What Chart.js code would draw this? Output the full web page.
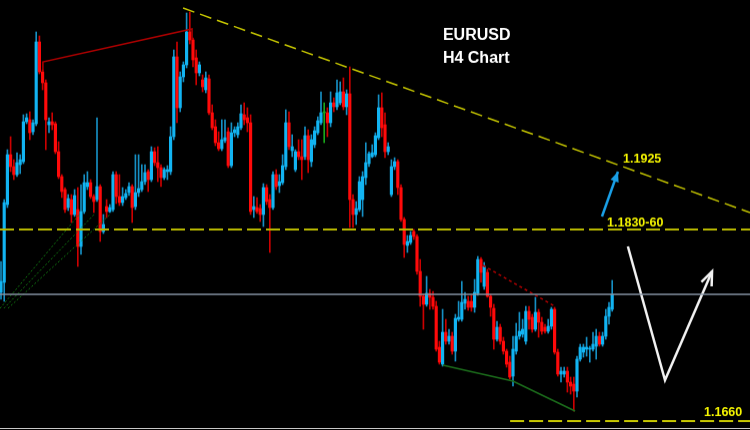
<!DOCTYPE html>
<html>
<head>
<meta charset="utf-8">
<script src="https://cdn.jsdelivr.net/npm/chart.js@4.4.0/dist/chart.umd.min.js"></script>
<style>
  html, body { margin: 0; padding: 0; background: #000; }
  #wrap { width: 750px; height: 430px; background: #000; }
  canvas { display: block; border-bottom: 1px solid #c8c8c8; }
</style>
</head>
<body>
<div id="wrap"><canvas id="myChart" width="750" height="429"></canvas></div>
<script>
// EURUSD H4 candles
var open = [
  1.1789,1.1799,1.1877,1.1927,1.1915,1.1907,1.1917,1.1920,1.1960,1.1962,
  1.1950,1.1958,1.2040,1.2010,1.1999,1.1957,1.1960,1.1958,1.1930,1.1905,
  1.1892,1.1874,1.1882,1.1867,1.1872,1.1835,1.1870,1.1895,1.1899,1.1885,
  1.1882,1.1895,1.1850,1.1875,1.1870,1.1872,1.1907,1.1885,1.1879,1.1884,
  1.1889,1.1895,1.1875,1.1889,1.1892,1.1900,1.1910,1.1902,1.1930,1.1919,
  1.1914,1.1904,1.1910,1.1910,1.1945,1.2025,1.1974,1.2005,1.2017,1.2050,
  1.2042,1.2024,1.2009,1.2002,1.1992,1.2003,1.1969,1.1955,1.1939,1.1933,
  1.1941,1.1950,1.1916,1.1949,1.1947,1.1954,1.1967,1.1964,1.1959,1.1872,
  1.1874,1.1873,1.1867,1.1894,1.1882,1.1874,1.1907,1.1896,1.1899,1.1915,
  1.1959,1.1931,1.1912,1.1930,1.1925,1.1925,1.1946,1.1920,1.1937,1.1949,
  1.1959,1.1969,1.1969,1.1959,1.1979,1.1975,1.1979,1.1990,1.1975,1.1988,
  1.1882,1.1867,1.1872,1.1882,1.1904,1.1918,1.1925,1.1927,1.1944,1.1974,
  1.1957,1.1930,1.1887,1.1915,1.1920,1.1894,1.1862,1.1836,1.1839,1.1850,
  1.1845,1.1810,1.1785,1.1777,1.1788,1.1784,1.1775,1.1734,1.1717,1.1749,
  1.1740,1.1745,1.1730,1.1762,1.1762,1.1778,1.1780,1.1780,1.1774,1.1788,
  1.1822,1.1795,1.1809,1.1785,1.1773,1.1742,1.1754,1.1740,1.1730,1.1719,
  1.1705,1.1730,1.1745,1.1747,1.1740,1.1770,1.1764,1.1752,1.1769,1.1759,
  1.1754,1.1750,1.1755,1.1772,1.1729,1.1707,1.1707,1.1710,1.1699,1.1697,
  1.1690,1.1722,1.1729,1.1732,1.1732,1.1732,1.1735,1.1745,1.1737,1.1745,
  1.1765,1.1772
];
var close = [
  1.1800,1.1879,1.1927,1.1915,1.1907,1.1919,1.1922,1.1960,1.1964,1.1949,
  1.1959,1.2040,1.2010,1.1999,1.1962,1.1960,1.1957,1.1930,1.1905,1.1890,
  1.1872,1.1883,1.1867,1.1886,1.1835,1.1870,1.1899,1.1899,1.1885,1.1880,
  1.1895,1.1850,1.1857,1.1870,1.1874,1.1907,1.1885,1.1879,1.1885,1.1888,
  1.1895,1.1874,1.1889,1.1893,1.1900,1.1909,1.1902,1.1930,1.1919,1.1914,
  1.1904,1.1912,1.1912,1.1945,1.2025,1.1974,1.2005,1.2017,1.2050,1.2042,
  1.2022,1.2009,1.2017,1.1995,1.2004,1.1969,1.1954,1.1939,1.1933,1.1942,
  1.1944,1.1916,1.1949,1.1952,1.1955,1.1968,1.1962,1.1959,1.1870,1.1875,
  1.1870,1.1867,1.1894,1.1880,1.1874,1.1907,1.1895,1.1900,1.1916,1.1959,
  1.1935,1.1935,1.1930,1.1925,1.1922,1.1946,1.1922,1.1942,1.1951,1.1961,
  1.1969,1.1969,1.1959,1.1979,1.1975,1.1989,1.1990,1.1975,1.1988,1.1882,
  1.1867,1.1873,1.1900,1.1905,1.1919,1.1928,1.1929,1.1946,1.1974,1.1954,
  1.1930,1.1935,1.1915,1.1920,1.1894,1.1862,1.1837,1.1840,1.1846,1.1845,
  1.1810,1.1785,1.1777,1.1788,1.1784,1.1775,1.1732,1.1719,1.1749,1.1740,
  1.1745,1.1730,1.1763,1.1764,1.1779,1.1782,1.1774,1.1774,1.1789,1.1822,
  1.1809,1.1815,1.1785,1.1774,1.1742,1.1754,1.1740,1.1730,1.1717,1.1704,
  1.1732,1.1745,1.1750,1.1752,1.1770,1.1762,1.1752,1.1769,1.1759,1.1750,
  1.1750,1.1755,1.1772,1.1729,1.1707,1.1710,1.1710,1.1699,1.1695,1.1690,
  1.1722,1.1734,1.1734,1.1734,1.1733,1.1737,1.1745,1.1737,1.1745,1.1765,
  1.1774,1.1787
];
var high = [
  1.1820,1.1882,1.1932,1.1945,1.1922,1.1929,1.1927,1.1967,1.1968,1.1970,
  1.1962,1.2050,1.2046,1.2012,1.2002,1.1964,1.1969,1.1960,1.1940,1.1907,
  1.1894,1.1887,1.1887,1.1892,1.1894,1.1897,1.1907,1.1910,1.1902,1.1887,
  1.1964,1.1897,1.1867,1.1882,1.1877,1.1910,1.1910,1.1907,1.1894,1.1892,
  1.1899,1.1897,1.1927,1.1927,1.1917,1.1917,1.1912,1.1935,1.1934,1.1935,
  1.1917,1.1914,1.1916,1.1955,1.2032,1.2040,1.2010,1.2020,1.2069,1.2070,
  1.2044,1.2032,1.2020,1.2007,1.2010,1.2007,1.1977,1.1962,1.1950,1.1962,
  1.1962,1.1954,1.1959,1.1955,1.1959,1.1977,1.1979,1.1974,1.1967,1.1885,
  1.1884,1.1877,1.1898,1.1897,1.1887,1.1910,1.1912,1.1907,1.1927,1.1972,
  1.1970,1.1947,1.1932,1.1942,1.1942,1.1955,1.1952,1.1947,1.1955,1.1965,
  1.1990,1.1979,1.1974,1.1990,1.1984,1.2002,1.2000,1.2004,1.1992,1.2015,
  1.1887,1.1880,1.1905,1.1910,1.1939,1.1930,1.1937,1.1949,1.1987,1.1989,
  1.1969,1.1939,1.1922,1.1924,1.1922,1.1897,1.1864,1.1846,1.1850,1.1852,
  1.1847,1.1822,1.1787,1.1805,1.1792,1.1790,1.1780,1.1740,1.1772,1.1762,
  1.1752,1.1749,1.1767,1.1780,1.1800,1.1789,1.1785,1.1786,1.1802,1.1825,
  1.1824,1.1819,1.1812,1.1787,1.1777,1.1760,1.1757,1.1744,1.1732,1.1725,
  1.1745,1.1758,1.1769,1.1762,1.1775,1.1775,1.1767,1.1784,1.1772,1.1764,
  1.1757,1.1762,1.1774,1.1774,1.1732,1.1714,1.1714,1.1714,1.1704,1.1704,
  1.1725,1.1737,1.1737,1.1744,1.1735,1.1749,1.1752,1.1749,1.1749,1.1772,
  1.1779,1.1801
];
var low = [
  1.1782,1.1780,1.1874,1.1910,1.1902,1.1905,1.1908,1.1918,1.1958,1.1942,
  1.1947,1.1956,1.2008,1.1992,1.1932,1.1949,1.1952,1.1928,1.1903,1.1884,
  1.1869,1.1871,1.1859,1.1865,1.1815,1.1827,1.1868,1.1892,1.1883,1.1869,
  1.1880,1.1840,1.1848,1.1864,1.1869,1.1870,1.1878,1.1876,1.1876,1.1882,
  1.1886,1.1859,1.1872,1.1885,1.1890,1.1897,1.1890,1.1900,1.1916,1.1900,
  1.1895,1.1902,1.1902,1.1907,1.1942,1.1959,1.1970,1.2000,1.2014,1.2038,
  1.2015,1.1997,1.2006,1.1990,1.1989,1.1967,1.1952,1.1936,1.1931,1.1931,
  1.1939,1.1914,1.1914,1.1945,1.1944,1.1952,1.1957,1.1950,1.1867,1.1864,
  1.1868,1.1860,1.1855,1.1877,1.1829,1.1872,1.1892,1.1889,1.1897,1.1912,
  1.1932,1.1925,1.1910,1.1922,1.1902,1.1922,1.1909,1.1915,1.1934,1.1947,
  1.1957,1.1939,1.1945,1.1955,1.1970,1.1972,1.1977,1.1972,1.1967,1.1854,
  1.1854,1.1857,1.1870,1.1865,1.1897,1.1915,1.1924,1.1925,1.1942,1.1945,
  1.1924,1.1927,1.1885,1.1912,1.1887,1.1860,1.1824,1.1829,1.1837,1.1842,
  1.1807,1.1775,1.1752,1.1775,1.1772,1.1772,1.1730,1.1717,1.1715,1.1737,
  1.1737,1.1727,1.1720,1.1760,1.1760,1.1772,1.1771,1.1770,1.1769,1.1786,
  1.1799,1.1792,1.1784,1.1765,1.1732,1.1740,1.1737,1.1727,1.1714,1.1702,
  1.1695,1.1727,1.1742,1.1744,1.1737,1.1752,1.1749,1.1750,1.1744,1.1747,
  1.1748,1.1748,1.1752,1.1727,1.1705,1.1699,1.1704,1.1689,1.1687,1.1670,
  1.1684,1.1720,1.1724,1.1725,1.1719,1.1730,1.1722,1.1735,1.1735,1.1742,
  1.1757,1.1770
];

// drawn lines, as [bar index, price]
var trendTop = [[56.9, 1.2074], [234.06, 1.1869]];
var highsLine = [[13.1, 1.2010], [13.1, 1.2020], [59.7, 1.2053], [59.7, 1.2042]];
var fanLines = [
  [[-0.3, 1.1773], [24.7, 1.1868]],
  [[0.9, 1.1773], [29.4, 1.1868]],
  [[2.2, 1.1773], [34.4, 1.1868]]
];
var lowerHighs = [[150.6, 1.1816], [173.1, 1.1775]];
var lowsLine = [[138.1, 1.1716], [160.0, 1.1700], [179.4, 1.1670]];
var zoneLevel = 1.1852;
var pivotLevel = 1.1787;
var supportLevel = 1.1660;
var whitePath = [[195.9, 1.1835], [207.5, 1.1701], [222.2, 1.1810]];
var bluePath = [[187.8, 1.1865], [192.8, 1.1910]];

var titleLines = ['EURUSD', 'H4 Chart'];
var priceLabels = ['1.1925', '1.1830-60', '1.1660'];

var xMin = -0.3125, xMax = 234.0625;
var bars = open.map((o, i) => i);

function pts(arr) {
    return arr.map(p => ({ x: p[0], y: p[1] }));
}

function bodyColor(i) {
    if (close[i] > open[i]) return '#12b4f2';
    if (close[i] < open[i]) return '#ff0a0a';
    return '#1aa81a';
}
function wickColor(i) {
    if (close[i] > open[i]) return '#1690c4';
    if (close[i] < open[i]) return '#cc0000';
    return '#1aa81a';
}

function lineSet(data, color, width, dash) {
    return {
        type: 'line',
        data: data,
        borderColor: color,
        borderWidth: width,
        borderDash: dash || [],
        pointRadius: 0,
        fill: false,
        tension: 0,
        order: 0
    };
}

function arrowHead(ctx, a, b, len, spread, filled, color, width) {
    var ang = Math.atan2(b[1] - a[1], b[0] - a[0]);
    var l = [b[0] - len * Math.cos(ang - spread), b[1] - len * Math.sin(ang - spread)];
    var r = [b[0] - len * Math.cos(ang + spread), b[1] - len * Math.sin(ang + spread)];
    ctx.beginPath();
    if (filled) {
        ctx.moveTo(b[0], b[1]);
        ctx.lineTo(l[0], l[1]);
        ctx.lineTo(r[0], r[1]);
        ctx.closePath();
        ctx.fillStyle = color;
        ctx.fill();
    } else {
        ctx.moveTo(l[0], l[1]);
        ctx.lineTo(b[0], b[1]);
        ctx.lineTo(r[0], r[1]);
        ctx.strokeStyle = color;
        ctx.lineWidth = width;
        ctx.stroke();
    }
}

var annotate = {
    id: 'annotate',
    afterDatasetsDraw(chart) {
        var ctx = chart.ctx, xs = chart.scales.x, ys = chart.scales.y;
        var px = p => [xs.getPixelForValue(p[0]), ys.getPixelForValue(p[1])];
        ctx.save();
        // arrow heads
        var w = whitePath.map(px);
        arrowHead(ctx, w[1], w[2], 15, 0.38, false, '#f2f2f2', 2.5);
        var b = bluePath.map(px);
        arrowHead(ctx, b[0], b[1], 11, 0.4, true, '#1a9fe6');

        // titles
        ctx.fillStyle = '#ffffff';
        ctx.font = 'bold 16px "Liberation Sans", Arial, sans-serif';
        ctx.textBaseline = 'alphabetic';
        ctx.fillText(titleLines[0], xs.getPixelForValue(138.1), ys.getPixelForValue(1.2042));
        ctx.fillText(titleLines[1], xs.getPixelForValue(138.1), ys.getPixelForValue(1.2019));

        // price labels
        ctx.fillStyle = '#f5f500';
        ctx.font = 'bold 12.5px "Liberation Sans", Arial, sans-serif';
        ctx.fillText(priceLabels[0], xs.getPixelForValue(194.4), ys.getPixelForValue(1.1919));
        ctx.fillText(priceLabels[1], xs.getPixelForValue(189.4), ys.getPixelForValue(1.1855));
        ctx.fillText(priceLabels[2], xs.getPixelForValue(219.7), ys.getPixelForValue(1.1665));
        ctx.restore();
    }
};

var chart = document.getElementById('myChart').getContext('2d');

var fxChart = new Chart(chart, {
    type: 'bar',
    data: {
        datasets: [
            lineSet(pts(trendTop), '#c4c400', 1.5, [12, 6]),
            lineSet([{ x: xMin, y: zoneLevel }, { x: xMax, y: zoneLevel }], '#b8b800', 2, [14, 5]),
            lineSet([{ x: 159.1, y: supportLevel }, { x: xMax, y: supportLevel }], '#c8c800', 2, [14, 5]),
            lineSet([{ x: xMin, y: pivotLevel }, { x: xMax, y: pivotLevel }], '#8794a6', 1.5),
            lineSet(pts(highsLine), '#b00000', 1.5),
            lineSet(pts(fanLines[0]), '#127a12', 1, [2, 2]),
            lineSet(pts(fanLines[1]), '#127a12', 1, [2, 2]),
            lineSet(pts(fanLines[2]), '#127a12', 1, [2, 2]),
            lineSet(pts(lowerHighs), '#b00000', 1.5, [3, 3]),
            lineSet(pts(lowsLine), '#1c6e1c', 1.5),
            lineSet(pts(whitePath), '#f2f2f2', 2.5),
            lineSet(pts(bluePath), '#1a9fe6', 2.5),
            {
                label: 'wicks',
                data: bars.map(i => ({ x: i, y: [low[i], high[i]] })),
                backgroundColor: bars.map(wickColor),
                barThickness: 1,
                grouped: false,
                borderWidth: 0,
                order: 2
            },
            {
                label: 'bodies',
                data: bars.map(i => ({ x: i, y: [open[i], close[i]] })),
                backgroundColor: bars.map(bodyColor),
                barThickness: 2.5,
                minBarLength: 1,
                grouped: false,
                borderWidth: 0,
                order: 1
            }
        ]
    },
    options: {
        responsive: false,
        animation: false,
        layout: { padding: 0 },
        plugins: {
            legend: { display: false },
            tooltip: { enabled: false }
        },
        scales: {
            x: { type: 'linear', display: false, min: xMin, max: xMax, offset: false },
            y: { display: false, min: 1.1653, max: 1.2082 }
        }
    },
    plugins: [annotate]
});
</script>
</body>
</html>
